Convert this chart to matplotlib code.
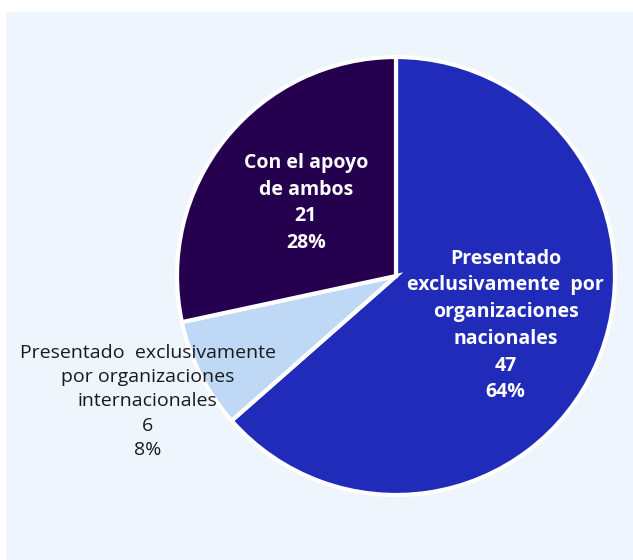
import numpy as np
import matplotlib.pyplot as plt
from matplotlib.patches import Rectangle

plt.rcParams['font.family'] = ['Open Sans', 'Noto Sans', 'DejaVu Sans']

# data
labels = ["Presentado\nexclusivamente  por\norganizaciones\nnacionales",
          "Presentado  exclusivamente\npor organizaciones\ninternacionales",
          "Con el apoyo\nde ambos"]
counts = [47, 6, 21]
colors = ['#202BB9', '#BED8F6', '#25004F']
text_colors = ['white', '#1a1a1a', 'white']
text_weights = ['bold', 'normal', 'bold']
label_radius = [0.55, 1.27, 0.53]

fig = plt.figure(figsize=(6.33, 5.6), dpi=100, facecolor='white')
# light panel behind the chart
fig.patches.append(Rectangle((6 / 633, 0), 1, (560 - 12) / 560,
                             transform=fig.transFigure, facecolor='#EEF5FC',
                             edgecolor='none', zorder=-10))

ax = fig.add_axes([177 / 633, 65 / 560, 438 / 633, 438 / 560])
ax.set_facecolor('none')
ax.set_zorder(1)

wedges, _ = ax.pie(counts, colors=colors, startangle=90, counterclock=False,
                   wedgeprops=dict(edgecolor='white', linewidth=3))

total = sum(counts)
for w, lab, n, tc, fw, r in zip(wedges, labels, counts, text_colors,
                                text_weights, label_radius):
    mid = np.deg2rad((w.theta1 + w.theta2) / 2)
    pct = round(100 * n / total)
    ax.text(r * np.cos(mid), r * np.sin(mid), f"{lab}\n{n}\n{pct}%",
            ha='center', va='center', multialignment='center',
            color=tc, fontweight=fw, fontsize=14, linespacing=1.45)

ax.set_xlim(-1, 1)
ax.set_ylim(-1, 1)
ax.axis('off')

fig.savefig('out.png', dpi=100)
